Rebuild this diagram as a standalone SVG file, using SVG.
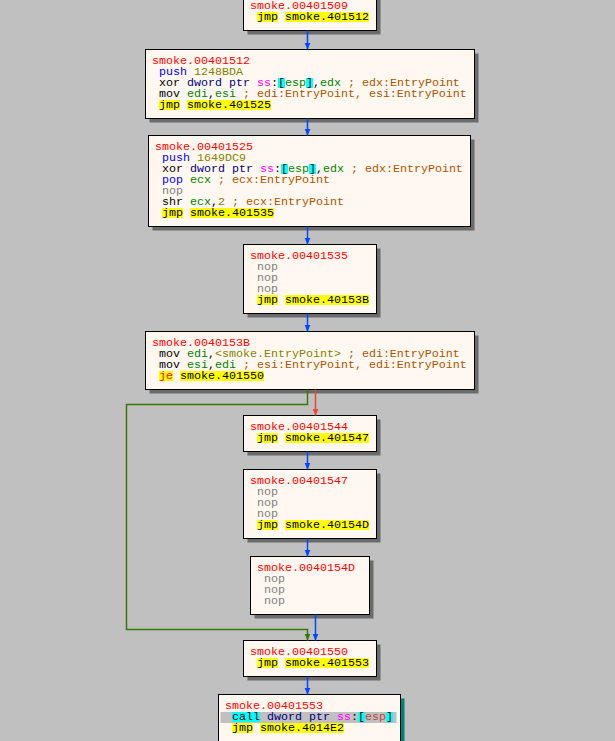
<svg xmlns="http://www.w3.org/2000/svg" width="615" height="741" viewBox="0 0 615 741">
<style>
.bg{fill:#C0C0C0}
.sh{fill:#6b6b6b}
.shc{fill:#007f7f}
.box{fill:#FFF8F0;stroke:#000;stroke-width:1}
.t{font-family:"Liberation Mono","DejaVu Sans Mono",monospace;font-size:11.665px;white-space:pre;fill:#000}
.lbl{fill:#FF0000}
.k{fill:#000}
.p{fill:#0000FF}
.n{fill:#808080}
.r{fill:#008300}
.v{fill:#828200}
.m{fill:#000080}
.s{fill:#FF00FF}
.c{fill:#AA5500}
.cj{fill:#FF0000}
.sr{fill:#B84A3E}
.hy{fill:#FFFF00}
.hc{fill:#00FFFF}
.sel{fill:#C0C0C0}
.e{fill:none;stroke-width:1.5}
.eb{stroke:#0148FB}
.er{stroke:#ED4630}
.eg{stroke:#387804}
</style>
<defs>
<marker id="ab" viewBox="0 0 8 8" refX="8" refY="4" markerWidth="7" markerHeight="7" markerUnits="userSpaceOnUse" orient="auto"><path d="M0,0.5 L8,4 L0,7.5 z" fill="#0148FB"/></marker>
<marker id="ar" viewBox="0 0 8 8" refX="8" refY="4" markerWidth="7" markerHeight="7" markerUnits="userSpaceOnUse" orient="auto"><path d="M0,0.5 L8,4 L0,7.5 z" fill="#ED4630"/></marker>
<marker id="ag" viewBox="0 0 8 8" refX="8" refY="4" markerWidth="7" markerHeight="7" markerUnits="userSpaceOnUse" orient="auto"><path d="M0,0.5 L8,4 L0,7.5 z" fill="#387804"/></marker>
</defs>
<rect class="bg" x="0" y="0" width="615" height="741"/>

<g id="n401509">
<rect class="sh" x="247.5" y="-1.5" width="133" height="36"/>
<rect class="box" x="243.5" y="-5.5" width="133" height="36"/>
<rect class="hy" x="257" y="12" width="21" height="10"/><rect class="hy" x="285" y="12" width="84" height="10"/>
<text class="t lbl" x="250" y="9">smoke.00401509</text>
<text class="t k" x="250" y="20" xml:space="preserve"> jmp smoke.401512</text>
</g>

<g id="n401512">
<rect class="sh" x="149.5" y="53.5" width="329" height="69"/>
<rect class="box" x="145.5" y="49.5" width="329" height="69"/>
<rect class="hc" x="278" y="78" width="7" height="10"/><rect class="hc" x="306" y="78" width="7" height="10"/>
<rect class="hy" x="159" y="100" width="21" height="10"/><rect class="hy" x="187" y="100" width="84" height="10"/>
<text class="t lbl" x="152" y="64">smoke.00401512</text>
<text class="t" x="152" y="75" xml:space="preserve"> <tspan class="p">push</tspan> <tspan class="v">1248BDA</tspan></text>
<text class="t" x="152" y="86" xml:space="preserve"> xor <tspan class="m">dword ptr</tspan> <tspan class="s">ss</tspan>:[<tspan class="r">esp</tspan>],<tspan class="r">edx</tspan><tspan class="c"> ; edx:EntryPoint</tspan></text>
<text class="t" x="152" y="97" xml:space="preserve"> mov <tspan class="r">edi</tspan>,<tspan class="r">esi</tspan><tspan class="c"> ; edi:EntryPoint, esi:EntryPoint</tspan></text>
<text class="t k" x="152" y="108" xml:space="preserve"> jmp smoke.401525</text>
</g>

<g id="n401525">
<rect class="sh" x="152.5" y="139.5" width="322" height="91"/>
<rect class="box" x="148.5" y="135.5" width="322" height="91"/>
<rect class="hc" x="281" y="164" width="7" height="10"/><rect class="hc" x="309" y="164" width="7" height="10"/>
<rect class="hy" x="162" y="208" width="21" height="10"/><rect class="hy" x="190" y="208" width="84" height="10"/>
<text class="t lbl" x="155" y="150">smoke.00401525</text>
<text class="t" x="155" y="161" xml:space="preserve"> <tspan class="p">push</tspan> <tspan class="v">1649DC9</tspan></text>
<text class="t" x="155" y="172" xml:space="preserve"> xor <tspan class="m">dword ptr</tspan> <tspan class="s">ss</tspan>:[<tspan class="r">esp</tspan>],<tspan class="r">edx</tspan><tspan class="c"> ; edx:EntryPoint</tspan></text>
<text class="t" x="155" y="183" xml:space="preserve"> <tspan class="p">pop</tspan> <tspan class="r">ecx</tspan><tspan class="c"> ; ecx:EntryPoint</tspan></text>
<text class="t n" x="155" y="194" xml:space="preserve"> nop</text>
<text class="t" x="155" y="205" xml:space="preserve"> shr <tspan class="r">ecx</tspan>,<tspan class="v">2</tspan><tspan class="c"> ; ecx:EntryPoint</tspan></text>
<text class="t k" x="155" y="216" xml:space="preserve"> jmp smoke.401535</text>
</g>

<g id="n401535">
<rect class="sh" x="247.5" y="248.5" width="133" height="69"/>
<rect class="box" x="243.5" y="244.5" width="133" height="69"/>
<rect class="hy" x="257" y="295" width="21" height="10"/><rect class="hy" x="285" y="295" width="84" height="10"/>
<text class="t lbl" x="250" y="259">smoke.00401535</text>
<text class="t n" x="250" y="270" xml:space="preserve"> nop</text>
<text class="t n" x="250" y="281" xml:space="preserve"> nop</text>
<text class="t n" x="250" y="292" xml:space="preserve"> nop</text>
<text class="t k" x="250" y="303" xml:space="preserve"> jmp smoke.40153B</text>
</g>

<g id="n40153B">
<rect class="sh" x="149.5" y="335.5" width="329" height="58"/>
<rect class="box" x="145.5" y="331.5" width="329" height="58"/>
<rect class="hy" x="159" y="371" width="14" height="10"/><rect class="hy" x="180" y="371" width="84" height="10"/>
<text class="t lbl" x="152" y="346">smoke.0040153B</text>
<text class="t" x="152" y="357" xml:space="preserve"> mov <tspan class="r">edi</tspan>,<tspan class="v">&lt;smoke.EntryPoint&gt;</tspan><tspan class="c"> ; edi:EntryPoint</tspan></text>
<text class="t" x="152" y="368" xml:space="preserve"> mov <tspan class="r">esi</tspan>,<tspan class="r">edi</tspan><tspan class="c"> ; esi:EntryPoint, edi:EntryPoint</tspan></text>
<text class="t" x="152" y="379" xml:space="preserve"> <tspan class="cj">je</tspan> smoke.401550</text>
</g>

<g id="n401544">
<rect class="sh" x="247.5" y="419.5" width="133" height="36"/>
<rect class="box" x="243.5" y="415.5" width="133" height="36"/>
<rect class="hy" x="257" y="433" width="21" height="10"/><rect class="hy" x="285" y="433" width="84" height="10"/>
<text class="t lbl" x="250" y="430">smoke.00401544</text>
<text class="t k" x="250" y="441" xml:space="preserve"> jmp smoke.401547</text>
</g>

<g id="n401547">
<rect class="sh" x="247.5" y="473.5" width="133" height="69"/>
<rect class="box" x="243.5" y="469.5" width="133" height="69"/>
<rect class="hy" x="257" y="520" width="21" height="10"/><rect class="hy" x="285" y="520" width="84" height="10"/>
<text class="t lbl" x="250" y="484">smoke.00401547</text>
<text class="t n" x="250" y="495" xml:space="preserve"> nop</text>
<text class="t n" x="250" y="506" xml:space="preserve"> nop</text>
<text class="t n" x="250" y="517" xml:space="preserve"> nop</text>
<text class="t k" x="250" y="528" xml:space="preserve"> jmp smoke.40154D</text>
</g>

<g id="n40154D">
<rect class="sh" x="254.5" y="560.5" width="119" height="58"/>
<rect class="box" x="250.5" y="556.5" width="119" height="58"/>
<text class="t lbl" x="257" y="571">smoke.0040154D</text>
<text class="t n" x="257" y="582" xml:space="preserve"> nop</text>
<text class="t n" x="257" y="593" xml:space="preserve"> nop</text>
<text class="t n" x="257" y="604" xml:space="preserve"> nop</text>
</g>

<g id="n401550">
<rect class="sh" x="247.5" y="644.5" width="133" height="36"/>
<rect class="box" x="243.5" y="640.5" width="133" height="36"/>
<rect class="hy" x="257" y="658" width="21" height="10"/><rect class="hy" x="285" y="658" width="84" height="10"/>
<text class="t lbl" x="250" y="655">smoke.00401550</text>
<text class="t k" x="250" y="666" xml:space="preserve"> jmp smoke.401553</text>
</g>

<g id="n401553">
<rect class="shc" x="222.5" y="698.5" width="182" height="60"/>
<rect class="box" x="218.5" y="694.5" width="182" height="60"/>
<rect class="sel" x="220.5" y="712" width="176" height="11"/>
<rect class="hc" x="232" y="712" width="28" height="10"/><rect class="hc" x="358" y="712" width="7" height="10"/><rect class="hc" x="386" y="712" width="7" height="10"/>
<rect class="hy" x="232" y="723" width="21" height="10"/><rect class="hy" x="260" y="723" width="84" height="10"/>
<text class="t lbl" x="225" y="709">smoke.00401553</text>
<text class="t" x="225" y="720" xml:space="preserve"> call <tspan class="m">dword ptr</tspan> <tspan class="s">ss</tspan>:[<tspan class="sr">esp</tspan>]</text>
<text class="t k" x="225" y="731" xml:space="preserve"> jmp smoke.4014E2</text>
</g>

<g id="connectors">
<path class="e eb" d="M307.5,30.5 V49.5" marker-end="url(#ab)"/>
<path class="e eb" d="M307.5,118.5 V135.5" marker-end="url(#ab)"/>
<path class="e eb" d="M307.5,226.5 V244.5" marker-end="url(#ab)"/>
<path class="e eb" d="M307.5,313.5 V331.5" marker-end="url(#ab)"/>
<path class="e er" d="M315.5,389.5 V415.5" marker-end="url(#ar)"/>
<path class="e eg" d="M307.5,389.5 V404.5 H126.5 V629.5 H307.5 V640.5" marker-end="url(#ag)"/>
<path class="e eb" d="M307.5,451.5 V469.5" marker-end="url(#ab)"/>
<path class="e eb" d="M307.5,538.5 V556.5" marker-end="url(#ab)"/>
<path class="e eb" d="M315.5,614.5 V640.5" marker-end="url(#ab)"/>
<path class="e eb" d="M307.5,676.5 V694.5" marker-end="url(#ab)"/>
</g>
</svg>
